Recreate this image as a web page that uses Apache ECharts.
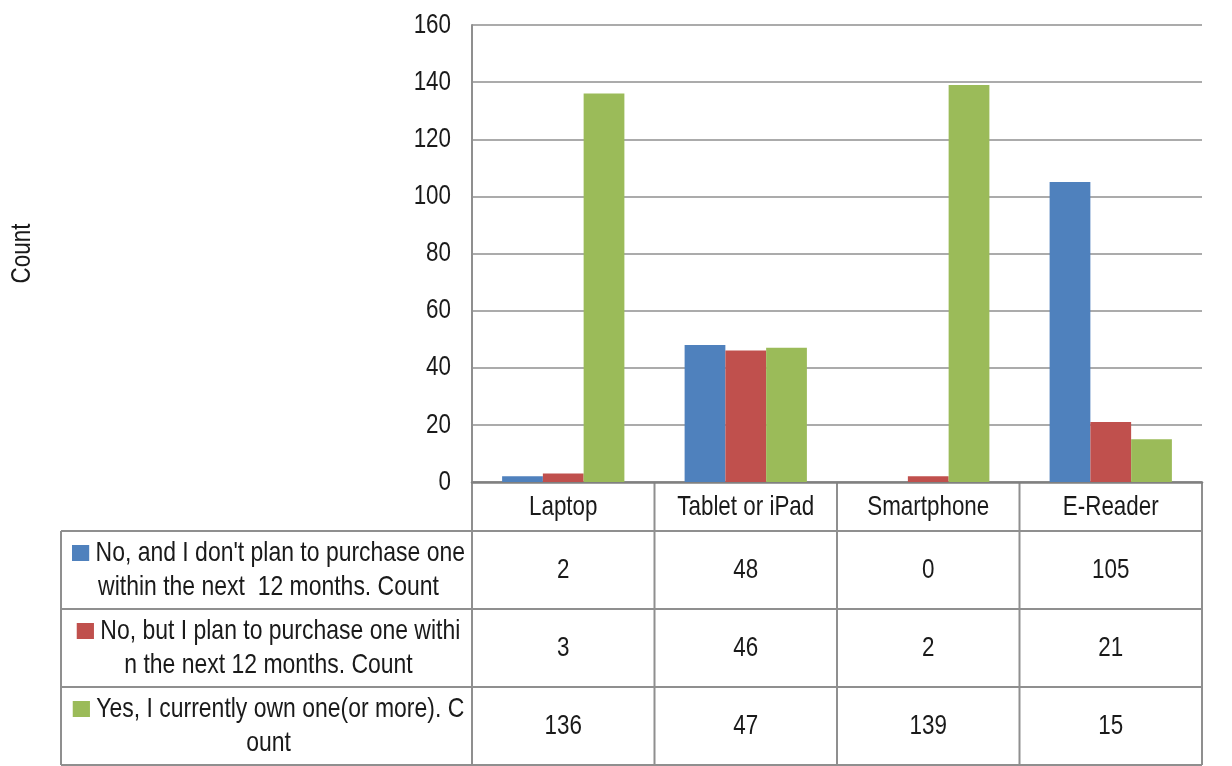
<!DOCTYPE html>
<html>
<head>
<meta charset="utf-8">
<script src="https://cdn.jsdelivr.net/npm/echarts@6/dist/echarts.min.js"></script>
<style>
  html, body { margin: 0; padding: 0; background: #ffffff; }
  #chart { width: 1232px; height: 766px; }
</style>
</head>
<body>
<div id="chart"></div>
<script>
// Device ownership survey: counts per device and answer
const categories = ['Laptop', 'Tablet or iPad', 'Smartphone', 'E-Reader'];
const seriesNames = [
  "No, and I don't plan to purchase one within the next 12 months. Count",
  'No, but I plan to purchase one within the next 12 months. Count',
  'Yes, I currently own one(or more). Count'
];
// wrapped row headers as they appear in the data table
const rowHeaderLines = [
  ["No, and I don't plan to purchase one", 'within the next  12 months. Count'],
  ['No, but I plan to purchase one withi', 'n the next 12 months. Count'],
  ['Yes, I currently own one(or more). C', 'ount']
];
const noPlanCounts = [2, 48, 0, 105];
const planCounts = [3, 46, 2, 21];
const ownCounts = [136, 47, 139, 15];
const yMin = 0, yMax = 160, yStep = 20;
const yTitle = 'Count';

const seriesValues = [noPlanCounts, planCounts, ownCounts];
const colors = ['#4F81BD', '#C0504D', '#9BBB59'];
const FONT = "'Liberation Sans Narrow', 'Liberation Sans', Arial, sans-serif";
const NARROW = 0.8;          // horizontal squeeze for a narrow face
const TEXT = '#1a1a1a';
const LINE = '#8f8f8f';

const chart = echarts.init(document.getElementById('chart'), null, { renderer: 'canvas' });

chart.setOption({
  backgroundColor: '#ffffff',
  animation: false,
  color: colors,
  grid: { left: 472, right: 30, top: 25, bottom: 284, containLabel: false },
  xAxis: {
    type: 'category',
    data: categories,
    axisLine: { show: true, lineStyle: { color: '#808080', width: 2.5 } },
    axisTick: { show: false },
    axisLabel: { show: false },
    splitLine: { show: false }
  },
  yAxis: {
    type: 'value',
    min: yMin, max: yMax, interval: yStep,
    axisLine: { show: true, lineStyle: { color: LINE, width: 2 } },
    axisTick: { show: false },
    axisLabel: { show: false },
    splitLine: { show: true, lineStyle: { color: LINE, width: 1.5 } }
  },
  series: seriesValues.map((vals, i) => ({
    name: seriesNames[i],
    type: 'bar',
    data: vals,
    barGap: '0%',
    barCategoryGap: '33%',
    itemStyle: { color: colors[i] }
  }))
});

// narrow text element placed at (x, y)
function label(x, y, text, align, extra) {
  return Object.assign({
    type: 'text', silent: true, x, y, scaleX: NARROW,
    style: {
      x: 0, y: 0, text,
      align: align || 'center',
      verticalAlign: 'middle',
      fill: TEXT,
      fontFamily: FONT,
      fontSize: 28
    }
  }, extra || {});
}

// Axis labels and the data table, laid out from the axis scales
function buildOverlay() {
  const c0 = chart.convertToPixel({ xAxisIndex: 0 }, categories[0]);
  const c1 = chart.convertToPixel({ xAxisIndex: 0 }, categories[1]);
  const band = c1 - c0;
  const plotLeft = c0 - band / 2;
  const plotRight = plotLeft + band * categories.length;
  const axisY = chart.convertToPixel({ yAxisIndex: 0 }, yMin);
  const topY = chart.convertToPixel({ yAxisIndex: 0 }, yMax);
  const headerBottom = axisY + 49;
  const rowH = (765 - headerBottom) / seriesValues.length;
  const tableBottom = headerBottom + rowH * seriesValues.length;
  const tableLeft = 61;

  const els = [];
  const line = (x1, y1, x2, y2) => els.push({
    type: 'line', silent: true,
    shape: { x1, y1, x2, y2 },
    style: { stroke: LINE, lineWidth: 2 }
  });

  // y tick labels
  for (let v = yMin; v <= yMax; v += yStep) {
    els.push(label(plotLeft - 21, chart.convertToPixel({ yAxisIndex: 0 }, v), String(v), 'right'));
  }
  // y axis title
  els.push(label(22, (axisY + topY) / 2, yTitle, 'center', { rotation: Math.PI / 2 }));

  // category header row
  categories.forEach((c) => {
    els.push(label(chart.convertToPixel({ xAxisIndex: 0 }, c), (axisY + headerBottom) / 2 + 1, c));
  });

  // table rules
  for (let r = 0; r <= seriesValues.length; r++) {
    const y = headerBottom + r * rowH;
    line(tableLeft, y, plotRight, y);
  }
  line(tableLeft, headerBottom, tableLeft, tableBottom);
  for (let k = 0; k <= categories.length; k++) {
    const x = plotLeft + k * band;
    line(x, k === 0 ? topY : axisY, x, tableBottom);
  }

  // row headers with series key, then values
  seriesValues.forEach((vals, r) => {
    const cy = headerBottom + r * rowH + rowH / 2;
    els.push({
      type: 'text', silent: true,
      x: (tableLeft + plotLeft) / 2 + 2, y: cy, scaleX: 0.82,
      style: {
        x: 0, y: 0,
        text: '{sq|} ' + rowHeaderLines[r][0] + '\n' + rowHeaderLines[r][1],
        align: 'center',
        verticalAlign: 'middle',
        fill: TEXT,
        fontFamily: FONT,
        fontSize: 28,
        lineHeight: 34,
        rich: {
          sq: { width: 21, height: 16, backgroundColor: colors[r] }
        }
      }
    });
    vals.forEach((v, k) => {
      els.push(label(plotLeft + k * band + band / 2, cy, String(v)));
    });
  });

  chart.setOption({ graphic: { elements: els } });
}

buildOverlay();
</script>
</body>
</html>
